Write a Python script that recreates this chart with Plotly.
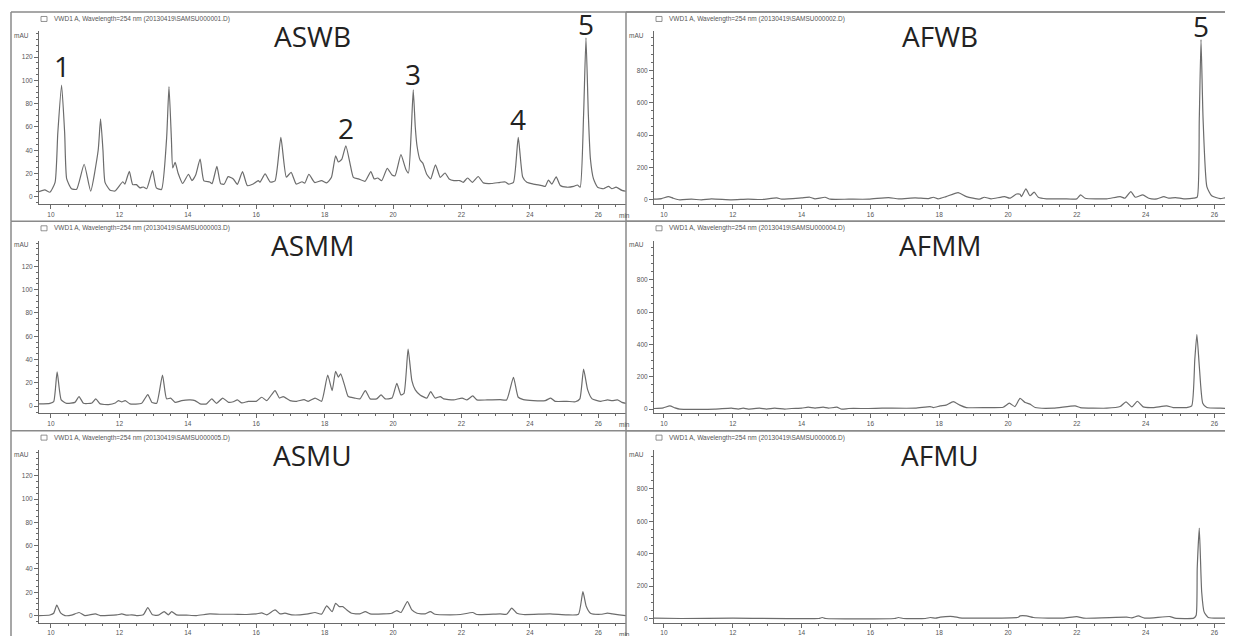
import plotly.graph_objects as go

# the page body adds an 8 px margin, so the figure fills the rest of the 1233 x 636 window
PAGE_PAD = 8
W, H = 1233 - PAGE_PAD, 636 - PAGE_PAD

# --- retention time (min) / absorbance (mAU) ---
ASWB_T = [9.65, 9.82, 9.97, 10.12, 10.2, 10.31, 10.4, 10.46, 10.6, 10.75, 10.97, 11.16, 11.38, 11.45, 11.52,
          11.58, 11.72, 11.87, 12.1, 12.16, 12.29, 12.39, 12.5, 12.6, 12.7, 12.8, 12.97, 13.08, 13.23, 13.38,
          13.45, 13.52, 13.56, 13.63, 13.72, 13.85, 14.02, 14.12, 14.23, 14.36, 14.47, 14.64, 14.71, 14.85,
          14.96, 15.06, 15.18, 15.33, 15.45, 15.6, 15.74, 15.91, 16.06, 16.11, 16.26, 16.41, 16.55, 16.72,
          16.88, 17.02, 17.17, 17.34, 17.42, 17.54, 17.71, 17.91, 18.06, 18.2, 18.32, 18.4, 18.5, 18.62,
          18.74, 18.84, 18.99, 19.18, 19.35, 19.45, 19.55, 19.67, 19.83, 19.97, 20.06, 20.23, 20.37, 20.45,
          20.53, 20.59, 20.65, 20.7, 20.79, 20.87, 20.98, 21.1, 21.24, 21.38, 21.52, 21.64, 21.78, 21.95,
          22.05, 22.18, 22.32, 22.49, 22.64, 22.88, 23.13, 23.28, 23.38, 23.52, 23.66, 23.79, 23.91, 24.1,
          24.35, 24.45, 24.54, 24.64, 24.77, 24.89, 25.08, 25.28, 25.39, 25.47, 25.57, 25.64, 25.71, 25.77,
          25.86, 25.98, 26.15, 26.3, 26.4, 26.52, 26.69, 26.81]
ASWB_Y = [4.5, 6, 4, 12.5, 55, 96, 55, 15.4, 7, 6.5, 28, 5, 40, 67, 40,
          12.5, 6, 5, 13, 11, 22, 10.5, 10.5, 7.7, 8.5, 7, 22.5, 7.7, 6.3, 50,
          94.6, 50, 24.8, 29.6, 20, 11.5, 19.4, 14, 18.8, 32.5, 13.7, 12.8, 11.4, 26.2,
          11.4, 10.8, 17.4, 15.4, 10.8, 21.7, 9.7, 11, 14, 12.5, 19.7, 12.8, 13.7, 51,
          17, 21, 11, 13, 11.8, 19.4, 12.3, 14, 12, 16.8, 35.3, 30, 32.2, 43.9,
          29, 16.8, 15.4, 13.4, 21.7, 15.4, 16.2, 14, 24.5, 18.8, 18.2, 36.2, 24, 20.5,
          55, 91.8, 60, 43.9, 31.6, 29, 19.7, 15.4, 27.6, 16.8, 20.5, 15.4, 14, 14,
          12.5, 16.2, 12.5, 17.5, 12, 11.5, 12.5, 12.8, 11, 12.5, 51, 17, 12.5, 11,
          9.7, 9, 14.5, 11, 17.1, 9.7, 8.3, 9, 10.2, 8.3, 70, 136.5, 70, 32.5,
          15.4, 8.3, 7, 9, 7, 8.3, 5.6, 4.8]

AFWB_T = [9.71, 9.93, 10.13, 10.27, 10.46, 10.8, 11.09, 11.38, 11.96, 12.44, 12.83, 13.28, 13.42, 14.0,
          14.24, 14.39, 14.68, 14.83, 15.37, 15.95, 16.53, 16.82, 17.3, 17.69, 17.83, 17.97, 18.2, 18.55,
          18.79, 19.17, 19.31, 19.51, 19.9, 20.05, 20.25, 20.35, 20.39, 20.52, 20.64, 20.76, 20.88, 21.12,
          21.61, 22.0, 22.11, 22.24, 22.87, 23.26, 23.4, 23.57, 23.7, 23.92, 24.09, 24.33, 24.53, 24.67,
          24.87, 25.11, 25.4, 25.5, 25.56, 25.61, 25.67, 25.78, 25.92, 26.17, 26.36, 26.55]
AFWB_Y = [4, 8, 20, 10, 0, 4, 0, 6, 0, 4, 2, 12, 4, 12,
          16, 6, 16, 4, 4, 4, 14, 6, 12, 8, 16, 6, 20, 45,
          20, 4, 16, 6, 20, 10, 36, 34, 20, 68, 25, 47, 16, 6,
          6, 6, 31, 10, 6, 20, 10, 51, 16, 31, 10, 6, 20, 10,
          14, 6, 10, 16, 500, 989, 500, 82, 25, 8, 14, 8]

ASMM_T = [9.65, 9.97, 10.08, 10.18, 10.3, 10.46, 10.7, 10.82, 10.95, 11.2, 11.31, 11.44, 11.68, 11.88,
          11.97, 12.07, 12.17, 12.31, 12.65, 12.83, 12.95, 13.09, 13.26, 13.38, 13.5, 13.63, 13.82, 14.07,
          14.21, 14.36, 14.55, 14.7, 14.84, 15.02, 15.19, 15.33, 15.45, 15.58, 15.77, 16.0, 16.16, 16.31,
          16.55, 16.68, 16.79, 16.99, 17.18, 17.4, 17.52, 17.72, 17.91, 18.09, 18.22, 18.32, 18.4, 18.47,
          18.6, 18.69, 18.88, 19.03, 19.19, 19.33, 19.52, 19.65, 19.77, 19.97, 20.11, 20.23, 20.32, 20.44,
          20.55, 20.65, 20.79, 20.99, 21.1, 21.23, 21.38, 21.48, 21.77, 22.02, 22.16, 22.33, 22.45, 22.75,
          23.13, 23.32, 23.52, 23.66, 23.81, 24.1, 24.45, 24.61, 24.74, 25.08, 25.33, 25.46, 25.57, 25.69,
          25.82, 26.07, 26.27, 26.41, 26.56, 26.69, 26.81]
ASMM_Y = [2, 2.5, 4, 29.6, 5.4, 2.5, 3.3, 8.3, 2.5, 2.8, 6.3, 2, 1.4, 2.8,
          4.8, 3.7, 4.8, 2, 2.5, 10, 3.3, 2.5, 26.8, 6.3, 7, 3.3, 4.8, 5.4,
          4.8, 2, 2, 6.3, 2.5, 7, 3.3, 3.8, 5.4, 2.8, 4.2, 4.2, 7.7, 4.8,
          13.4, 7, 8.3, 4.8, 4.2, 5.7, 4.2, 7, 4.2, 26.8, 13.4, 30, 25, 27.8,
          16.2, 8.3, 7, 6.3, 13.4, 6.3, 6.3, 9.7, 6.3, 7, 19.7, 9.7, 11, 49,
          22, 14, 9.7, 7, 12.5, 7, 8.3, 6.3, 5.4, 7, 5.4, 8.8, 5.4, 5.4,
          5.7, 5.4, 24.8, 7.7, 5.7, 4.8, 4.8, 7, 4.2, 4.2, 3.8, 6.3, 31.9, 14,
          6.3, 4.2, 5.4, 4.8, 5.4, 3.3, 2.5]

AFMM_T = [9.71, 9.98, 10.17, 10.32, 10.46, 11.48, 11.96, 12.16, 12.3, 12.45, 12.78, 12.98, 13.22, 13.51,
          13.71, 14.0, 14.19, 14.39, 14.63, 14.78, 15.02, 15.17, 15.37, 15.95, 16.34, 17.3, 17.74, 17.83,
          18.03, 18.2, 18.41, 18.6, 18.79, 19.38, 19.86, 20.04, 20.2, 20.35, 20.5, 20.64, 20.79, 21.32,
          21.95, 22.1, 22.87, 23.26, 23.43, 23.6, 23.76, 23.93, 24.22, 24.61, 24.8, 25.19, 25.34, 25.43,
          25.49, 25.56, 25.66, 25.78, 26.17, 26.55]
AFMM_Y = [4, 8, 20, 8, 0, 0, 6, 0, 6, 0, 6, 0, 6, 0,
          4, 6, 12, 6, 12, 6, 12, 0, 4, 4, 6, 6, 16, 10,
          20, 25, 47, 25, 10, 10, 12, 37, 16, 66, 41, 31, 10, 6,
          20, 10, 6, 16, 45, 14, 49, 14, 10, 20, 10, 10, 20, 308,
          461, 267, 37, 10, 6, 4]

ASMU_T = [9.65, 9.97, 10.08, 10.17, 10.28, 10.41, 10.6, 10.82, 10.99, 11.3, 11.44, 11.92, 12.07, 12.22,
          12.36, 12.5, 12.7, 12.83, 12.97, 13.14, 13.31, 13.43, 13.53, 13.67, 13.96, 14.25, 14.64, 14.93,
          15.33, 15.72, 16.0, 16.16, 16.31, 16.55, 16.7, 16.84, 17.04, 17.28, 17.52, 17.72, 17.91, 18.06,
          18.22, 18.32, 18.43, 18.53, 18.65, 18.79, 19.03, 19.19, 19.33, 19.72, 19.96, 20.11, 20.23, 20.42,
          20.55, 20.7, 20.94, 21.09, 21.23, 21.67, 21.97, 22.33, 22.45, 23.13, 23.32, 23.47, 23.62, 23.81,
          24.59, 25.08, 25.42, 25.55, 25.65, 25.77, 26.07, 26.27, 26.41, 26.61, 26.81]
ASMU_Y = [0, 0.5, 2, 9, 2.3, 0, 0.3, 2.6, 0, 1.4, 0, 0.5, 1.4, 0.3,
          0.6, 0, 0.6, 6.8, 0.6, 0.3, 3.4, 0.6, 3.4, 0.6, 0.4, 0, 1.4, 1.1,
          1.1, 0.9, 1.4, 2.3, 0.6, 4.8, 1.4, 2, 0.6, 0.6, 1.4, 2.6, 1.2, 8.3,
          3.4, 10.5, 7.7, 7.7, 4.8, 2, 1.4, 3.4, 1.4, 1.4, 2, 4.3, 2.6, 12,
          4.8, 2, 1.4, 3.4, 1.1, 0.6, 0.9, 2.6, 0.9, 1.4, 1.1, 6.3, 2, 0.9,
          1.4, 0.6, 1.1, 20.5, 7.7, 2, 1.1, 2, 1.4, 0.6, 0]

AFMU_T = [9.71, 10.5, 12.0, 14.5, 14.6, 14.7, 16.7, 16.82, 16.95, 17.6, 17.74, 17.9, 18.03, 18.41,
          18.6, 19.2, 20.3, 20.35, 20.54, 20.74, 21.6, 22.0, 22.2, 23.45, 23.6, 23.79, 23.97, 24.71,
          24.85, 25.4, 25.47, 25.5, 25.56, 25.63, 25.7, 25.82, 26.55]
AFMU_Y = [2, 0, 2, 0, 6, 0, 0, 6, 0, 0, 6, 2, 8, 12,
          4, 2, 8, 16, 16, 6, 2, 12, 2, 8, 4, 16, 2, 12,
          2, 2, 20, 308, 558, 164, 41, 6, 4]

SAMPLES = ["ASWB", "AFWB", "ASMM", "AFMM", "ASMU", "AFMU"]
FILES = ["000001", "000002", "000003", "000004", "000005", "000006"]
SERIES = [(ASWB_T, ASWB_Y), (AFWB_T, AFWB_Y), (ASMM_T, ASMM_Y),
          (AFMM_T, AFMM_Y), (ASMU_T, ASMU_Y), (AFMU_T, AFMU_Y)]

PEAK_LABELS = ["1", "2", "3", "4", "5"]
PEAK_TIMES = [10.31, 18.62, 20.59, 23.66, 25.64]
AFWB_PEAK_TIME = 25.61

LINE = "#6c6c6c"
AXIS = "#6a6a6a"
FRAME = "#8a8a8a"
SMALL = dict(family="Liberation Sans Narrow, Liberation Sans, Arial", size=6.5, color="#555555")
BIG = dict(family="Open Sans, Noto Sans, sans-serif", size=28, color="#222222")


# positions below are given in window pixels
def px(x):
    return (x - PAGE_PAD) / W


def py(y):
    return 1 - (y - PAGE_PAD) / H


COL_X = [(39, 626), (654, 1233)]
ROW_Y = [(31.5, 204.5), (241.5, 414.5), (451.5, 624.5)]
ROW_OFF = [0, 210, 420]
X_RANGE = [(9.65, 26.81), (9.71, 26.54)]
Y_RANGE = [(-6, 142), (-25, 1040)]
Y_TICKS = [[0, 20, 40, 60, 80, 100, 120], [0, 200, 400, 600, 800]]
Y_MINOR = [5, 50]
TITLE_X = [312, 940]
LABEL_SHIFT = [-2, -3, -5, -3, -7]

fig = go.Figure()
shapes = []
annotations = []

for i, name in enumerate(SAMPLES):
    row, col = divmod(i, 2)
    n = "" if i == 0 else str(i + 1)
    t, y = SERIES[i]
    fig.add_trace(go.Scatter(x=t, y=y, mode="lines", xaxis="x" + n, yaxis="y" + n,
                             line=dict(color=LINE, width=1.2, shape="spline", smoothing=0.5),
                             showlegend=False, hoverinfo="skip"))

    x0, x1 = COL_X[col]
    top, bot = ROW_Y[row]
    common = dict(showline=True, linecolor=AXIS, linewidth=1, showgrid=False, zeroline=False,
                  ticks="outside", ticklen=4, tickwidth=1, tickcolor=AXIS, tickfont=SMALL)
    fig.layout["xaxis" + n] = dict(
        common, domain=[px(x0), min(px(x1), 1)], range=list(X_RANGE[col]), anchor="y" + n,
        tickvals=list(range(10, 27, 2)),
        minor=dict(ticks="outside", ticklen=2, tickcolor=AXIS, dtick=0.5, tick0=0))
    fig.layout["yaxis" + n] = dict(
        common, domain=[py(bot), py(top)], range=list(Y_RANGE[col]), anchor="x" + n,
        tickvals=Y_TICKS[col],
        minor=dict(ticks="outside", ticklen=2, tickcolor=AXIS, dtick=Y_MINOR[col], tick0=0))

    off = ROW_OFF[row]
    left = 11 if col == 0 else 626
    # panel frame
    shapes.append(dict(type="line", xref="paper", yref="paper", x0=px(left), x1=1,
                       y0=py(12 + off), y1=py(12 + off), line=dict(color=FRAME, width=1.5)))
    shapes.append(dict(type="line", xref="paper", yref="paper", x0=px(left), x1=px(left),
                       y0=py(12 + off), y1=py(222 + off), line=dict(color=FRAME, width=1.5)))
    # legend box + file caption
    lx = 41 if col == 0 else 656
    shapes.append(dict(type="rect", xref="paper", yref="paper", x0=px(lx), x1=px(lx + 6),
                       y0=py(21.5 + off), y1=py(16.5 + off), line=dict(color="#777777", width=0.8)))
    annotations.append(dict(xref="paper", yref="paper", x=px(lx + 11), y=py(19 + off),
                            xanchor="left", yanchor="middle", showarrow=False, font=SMALL,
                            text="VWD1 A, Wavelength=254 nm (20130419\\SAMSU%s.D)" % FILES[i]))
    # unit labels
    annotations.append(dict(xref="paper", yref="paper", x=px(x0 - 8), y=py(35.5 + off),
                            xanchor="right", yanchor="middle", showarrow=False, font=SMALL,
                            text="mAU"))
    if col == 0:
        annotations.append(dict(xref="paper", yref="paper", x=px(617), y=py(216 + off),
                                xanchor="left", yanchor="middle", showarrow=False, font=SMALL,
                                text="min"))
    # sample title
    annotations.append(dict(xref="paper", yref="paper", x=px(TITLE_X[col]), y=py(36 + off),
                            xanchor="center", yanchor="middle", showarrow=False, font=BIG,
                            text=name))

# numbered peaks in the ASWB and AFWB traces
for lab, pt, shift in zip(PEAK_LABELS, PEAK_TIMES, LABEL_SHIFT):
    k = ASWB_T.index(pt)
    annotations.append(dict(x=pt, y=ASWB_Y[k], xref="x", yref="y", text=lab, showarrow=False,
                            xanchor="center", yanchor="bottom", yshift=shift, font=BIG))
k = AFWB_T.index(AFWB_PEAK_TIME)
annotations.append(dict(x=AFWB_PEAK_TIME, y=AFWB_Y[k], xref="x2", yref="y2", text="5",
                        showarrow=False, xanchor="center", yanchor="bottom", yshift=-7, font=BIG))

fig.update_layout(width=W, height=H, autosize=False, margin=dict(l=0, r=0, t=0, b=0),
                  paper_bgcolor="white", plot_bgcolor="white", shapes=shapes,
                  annotations=annotations, showlegend=False)

fig.write_html("out.html")
